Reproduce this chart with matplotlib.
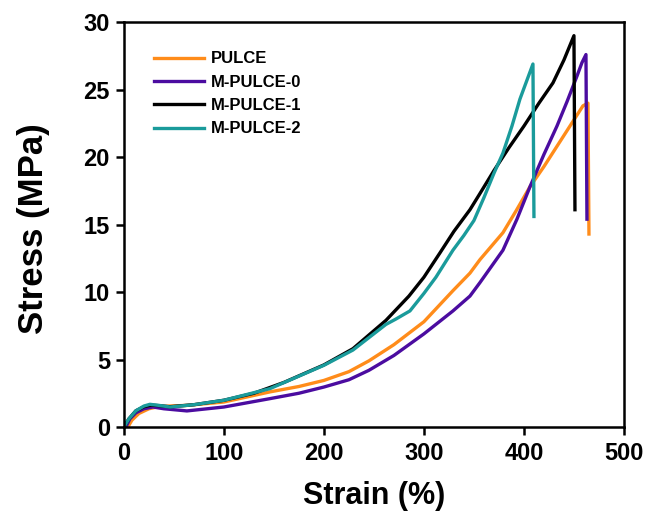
import matplotlib
matplotlib.use("Agg")
import matplotlib.pyplot as plt

plt.rcParams["font.family"] = ["Liberation Sans", "DejaVu Sans"]
plt.rcParams["font.weight"] = "bold"

# PULCE
pulce_x = [4, 8, 15, 25, 33, 45, 63, 100, 146, 175, 200, 225, 245, 270, 300, 329, 346, 356, 379, 392, 406, 420, 433, 446, 459, 464, 465]
pulce_y = [0, 0.5, 1.0, 1.35, 1.48, 1.55, 1.6, 1.85, 2.6, 3.0, 3.45, 4.1, 4.9, 6.1, 7.8, 10.1, 11.4, 12.4, 14.4, 16.0, 17.8, 19.3, 20.8, 22.3, 23.8, 24.0, 14.3]

# M-PULCE-0
m0_x = [2, 6, 12, 20, 29, 40, 63, 100, 146, 175, 200, 225, 245, 270, 300, 329, 346, 356, 379, 393, 406, 420, 433, 443, 453, 458, 462, 463]
m0_y = [0, 0.6, 1.05, 1.35, 1.48, 1.35, 1.19, 1.48, 2.1, 2.5, 2.96, 3.5, 4.2, 5.3, 6.9, 8.6, 9.7, 10.7, 13.1, 15.4, 17.8, 20.2, 22.3, 24.1, 26.0, 27.0, 27.6, 15.4]

# M-PULCE-1
m1_x = [0, 5, 12, 20, 27, 35, 46, 70, 100, 130, 160, 200, 229, 262, 285, 300, 316, 330, 346, 356, 370, 385, 400, 415, 429, 440, 450, 451]
m1_y = [0, 0.6, 1.2, 1.5, 1.62, 1.58, 1.5, 1.65, 1.98, 2.5, 3.3, 4.6, 5.8, 7.9, 9.7, 11.1, 12.9, 14.5, 16.1, 17.3, 19.0, 20.7, 22.3, 24.0, 25.5, 27.2, 29.0, 16.1]

# M-PULCE-2
m2_x = [0, 5, 12, 20, 26, 35, 46, 70, 100, 146, 200, 229, 262, 272, 286, 300, 312, 329, 340, 350, 360, 370, 379, 388, 396, 403, 409, 410]
m2_y = [0, 0.6, 1.2, 1.55, 1.68, 1.6, 1.48, 1.65, 1.98, 2.84, 4.57, 5.7, 7.6, 8.0, 8.6, 9.9, 11.1, 13.1, 14.2, 15.3, 17.0, 18.8, 20.3, 22.3, 24.3, 25.7, 26.9, 15.6]

series = [
    ("PULCE", pulce_x, pulce_y, "#FF8C1A"),
    ("M-PULCE-0", m0_x, m0_y, "#4B0CA0"),
    ("M-PULCE-1", m1_x, m1_y, "#000000"),
    ("M-PULCE-2", m2_x, m2_y, "#1A9B9B"),
]

fig = plt.figure(figsize=(6.52, 5.23), dpi=100)
ax = fig.add_axes([0.190, 0.1836, 0.767, 0.774])

for label, xs, ys, color in series:
    ax.plot(xs, ys, color=color, lw=2.4, label=label, solid_joinstyle="round")

ax.set_xlim(0, 500)
ax.set_ylim(0, 30)
ax.set_xticks(range(0, 501, 100))
ax.set_yticks(range(0, 31, 5))
ax.tick_params(axis="both", direction="out", length=6, width=1.8, labelsize=17)
ax.tick_params(axis="x", pad=5)
ax.tick_params(axis="y", pad=4)
for side in ["top", "right", "left", "bottom"]:
    ax.spines[side].set_linewidth(1.8)
for lbl in ax.get_xticklabels() + ax.get_yticklabels():
    lbl.set_fontweight("bold")

ax.set_xlabel("Strain (%)", fontsize=22, fontweight="bold")
ax.set_ylabel("Stress (MPa)", fontsize=25, fontweight="bold")
ax.xaxis.set_label_coords(0.5, -0.133)
ax.yaxis.set_label_coords(-0.148, 0.49)

ax.legend(loc="upper left", bbox_to_anchor=(0.03, 0.965), frameon=False,
          handlelength=3.0, handletextpad=0.4, labelspacing=0.5,
          prop={"weight": "bold", "size": 12})

fig.savefig("out.png", dpi=100)
